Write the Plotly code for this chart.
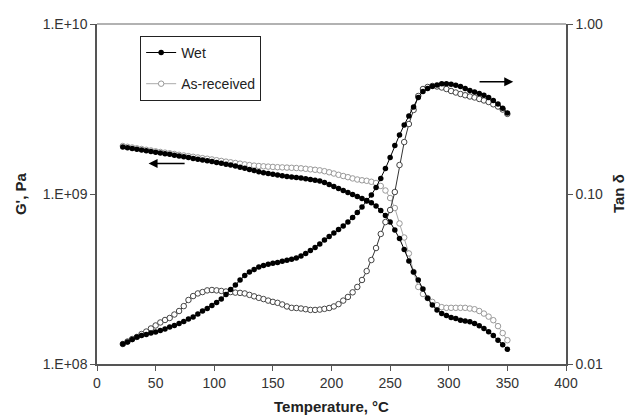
import plotly.graph_objects as go

temperature = [22, 26, 30, 34, 38, 42, 46, 50, 54, 58, 62, 66, 70, 74, 78, 82, 86, 90, 94, 98,
               102, 106, 110, 114, 118, 122, 126, 130, 134, 138, 142, 146, 150, 154, 158, 162,
               166, 170, 174, 178, 182, 186, 190, 194, 198, 202, 206, 210, 214, 218, 222, 226,
               230, 234, 238, 242, 246, 250, 254, 258, 262, 266, 270, 274, 278, 282, 286, 290,
               294, 298, 302, 306, 310, 314, 318, 322, 326, 330, 334, 338, 342, 346, 350]

g_wet = [1.890e9, 1.870e9, 1.852e9, 1.835e9, 1.815e9, 1.796e9, 1.779e9, 1.760e9, 1.743e9, 1.727e9,
         1.711e9, 1.693e9, 1.673e9, 1.655e9, 1.637e9, 1.619e9, 1.602e9, 1.585e9, 1.568e9, 1.551e9,
         1.534e9, 1.515e9, 1.497e9, 1.479e9, 1.461e9, 1.438e9, 1.416e9, 1.393e9, 1.373e9, 1.352e9,
         1.335e9, 1.320e9, 1.306e9, 1.294e9, 1.281e9, 1.269e9, 1.259e9, 1.249e9, 1.240e9, 1.231e9,
         1.217e9, 1.204e9, 1.193e9, 1.169e9, 1.138e9, 1.107e9, 1.078e9, 1.049e9, 1.020e9, 9.93e8,
         9.66e8, 9.40e8, 9.16e8, 8.87e8, 8.50e8, 8.00e8, 7.47e8, 6.85e8, 6.14e8, 5.47e8,
         4.72e8, 4.04e8, 3.48e8, 3.12e8, 2.76e8, 2.44e8, 2.22e8, 2.08e8, 1.98e8, 1.93e8,
         1.88e8, 1.85e8, 1.81e8, 1.79e8, 1.77e8, 1.73e8, 1.68e8, 1.62e8, 1.55e8, 1.47e8,
         1.38e8, 1.30e8, 1.22e8]

g_asrec = [1.916e9, 1.895e9, 1.877e9, 1.856e9, 1.840e9, 1.820e9, 1.803e9, 1.783e9, 1.767e9, 1.751e9,
           1.735e9, 1.719e9, 1.700e9, 1.685e9, 1.670e9, 1.655e9, 1.640e9, 1.625e9, 1.612e9, 1.597e9,
           1.580e9, 1.565e9, 1.550e9, 1.536e9, 1.522e9, 1.508e9, 1.493e9, 1.480e9, 1.469e9, 1.461e9,
           1.455e9, 1.449e9, 1.443e9, 1.438e9, 1.434e9, 1.430e9, 1.426e9, 1.422e9, 1.416e9, 1.407e9,
           1.397e9, 1.388e9, 1.378e9, 1.362e9, 1.342e9, 1.320e9, 1.297e9, 1.276e9, 1.256e9, 1.235e9,
           1.217e9, 1.204e9, 1.196e9, 1.180e9, 1.161e9, 1.115e9, 1.049e9, 9.47e8, 8.27e8, 6.71e8,
           5.55e8, 4.47e8, 3.48e8, 2.84e8, 2.58e8, 2.44e8, 2.32e8, 2.22e8, 2.16e8, 2.14e8,
           2.14e8, 2.14e8, 2.14e8, 2.14e8, 2.12e8, 2.10e8, 2.05e8, 1.98e8, 1.90e8, 1.81e8,
           1.67e8, 1.52e8, 1.38e8]

tan_wet = [0.01311, 0.01347, 0.01393, 0.01442, 0.01471, 0.01491, 0.01520, 0.01542, 0.01574, 0.01607,
           0.01652, 0.01685, 0.01731, 0.01779, 0.01840, 0.01890, 0.01968, 0.0205, 0.0212, 0.0221,
           0.0230, 0.0241, 0.0256, 0.0274, 0.0292, 0.0312, 0.0332, 0.0348, 0.0360, 0.0372,
           0.0380, 0.0386, 0.0391, 0.0396, 0.0402, 0.0407, 0.0413, 0.0420, 0.0432, 0.0447,
           0.0465, 0.0485, 0.0508, 0.0536, 0.0562, 0.0590, 0.0618, 0.0648, 0.0684, 0.0727,
           0.0778, 0.0839, 0.0910, 0.0987, 0.1093, 0.1234, 0.1412, 0.1640, 0.1928, 0.2224,
           0.2547, 0.2877, 0.3250, 0.3697, 0.4008, 0.4175, 0.4300, 0.4378, 0.4450, 0.4450,
           0.4420, 0.4360, 0.4290, 0.4175, 0.4064, 0.3981, 0.3900, 0.3808, 0.3697, 0.3550,
           0.3380, 0.3195, 0.3000]

tan_asrec = [0.01311, 0.01356, 0.01403, 0.01442, 0.01501, 0.01552, 0.01618, 0.01685, 0.01755, 0.01815,
             0.01865, 0.01955, 0.0205, 0.0219, 0.0238, 0.0251, 0.0260, 0.0265, 0.0271, 0.02725,
             0.0271, 0.0269, 0.0267, 0.0265, 0.0263, 0.0262, 0.0260, 0.0255, 0.0250, 0.0245,
             0.0241, 0.0236, 0.0232, 0.0229, 0.0224, 0.0218, 0.0214, 0.02135, 0.0212, 0.0210,
             0.0208, 0.0208, 0.0209, 0.0211, 0.02135, 0.0218, 0.0225, 0.0236, 0.0248, 0.0264,
             0.0284, 0.0312, 0.0352, 0.0409, 0.0481, 0.0582, 0.0684, 0.0805, 0.1027, 0.1481,
             0.2021, 0.2580, 0.3121, 0.3772, 0.4147, 0.4261, 0.4319, 0.4290, 0.4232, 0.4147,
             0.4036, 0.3954, 0.3874, 0.3810, 0.3746, 0.3697, 0.3622, 0.3550, 0.3477, 0.3370,
             0.3270, 0.3140, 0.2960]

FONT = "Liberation Sans, Arial, sans-serif"
AXIS_COLOR = "#555555"
MS = 5.5

fig = go.Figure()

fig.add_trace(go.Scatter(
    x=temperature, y=g_asrec, name="As-received", legendgroup="b", legendrank=2, yaxis="y",
    mode="lines+markers",
    line=dict(color="#aaaaaa", width=1),
    marker=dict(symbol="circle", size=MS, color="white", line=dict(color="#999999", width=1)),
))
fig.add_trace(go.Scatter(
    x=temperature, y=tan_asrec, name="As-received tan", legendgroup="b", showlegend=False,
    yaxis="y2", mode="lines+markers",
    line=dict(color="#333333", width=1),
    marker=dict(symbol="circle", size=MS, color="white", line=dict(color="#444444", width=1)),
))
fig.add_trace(go.Scatter(
    x=temperature, y=g_wet, name="Wet", legendgroup="a", legendrank=1, yaxis="y",
    mode="lines+markers",
    line=dict(color="black", width=1),
    marker=dict(symbol="circle", size=MS, color="black"),
))
fig.add_trace(go.Scatter(
    x=temperature, y=tan_wet, name="Wet tan", legendgroup="a", showlegend=False,
    yaxis="y2", mode="lines+markers",
    line=dict(color="black", width=1),
    marker=dict(symbol="circle", size=MS, color="black"),
))

fig.update_layout(
    width=626, height=417,
    margin=dict(l=97, r=60, t=24, b=53, autoexpand=False),
    paper_bgcolor="white", plot_bgcolor="white",
    font=dict(family=FONT, size=14, color="#333333"),
    showlegend=True,
    legend=dict(
        x=0.092, y=0.965, xanchor="left", yanchor="top",
        bgcolor="white", bordercolor="#222222", borderwidth=1,
        font=dict(family=FONT, size=14, color="#222222"),
        traceorder="grouped", tracegroupgap=10, itemwidth=30,
    ),
    xaxis=dict(
        range=[0, 400], tickvals=[0, 50, 100, 150, 200, 250, 300, 350, 400],
        showline=True, linecolor=AXIS_COLOR, linewidth=1.5,
        ticks="outside", ticklen=5, tickcolor=AXIS_COLOR, showgrid=False, zeroline=False,
        title=dict(text="<b>Temperature, °C</b>", font=dict(size=15, color="#222222"), standoff=12),
        tickfont=dict(size=14),
    ),
    yaxis=dict(
        type="log", range=[8, 10],
        tickvals=[1e8, 1e9, 1e10], ticktext=["1.E+08", "1.E+09", "1.E+10"],
        showline=True, linecolor=AXIS_COLOR, linewidth=1.5,
        ticks="outside", ticklen=5, tickcolor=AXIS_COLOR, showgrid=False, zeroline=False,
        tickfont=dict(size=14),
    ),
    yaxis2=dict(
        type="log", range=[-2, 0], overlaying="y", side="right",
        tickvals=[0.01, 0.1, 1], ticktext=["0.01", "0.10", "1.00"],
        showline=True, linecolor=AXIS_COLOR, linewidth=1.5,
        ticks="outside", ticklen=5, tickcolor=AXIS_COLOR, showgrid=False, zeroline=False,
        tickfont=dict(size=14),
    ),
    shapes=[dict(type="line", xref="paper", yref="paper", x0=0, x1=1, y0=1, y1=1,
                 line=dict(color="#999999", width=1.5))],
    annotations=[
        dict(x=44, y=9.18, xref="x", yref="y", ax=76, ay=9.18, axref="x", ayref="y",
             text="", showarrow=True, arrowhead=2, arrowsize=1.2, arrowwidth=1.5, arrowcolor="black"),
        dict(x=355, y=-0.34, xref="x", yref="y2", ax=325, ay=-0.34, axref="x", ayref="y2",
             text="", showarrow=True, arrowhead=2, arrowsize=1.2, arrowwidth=1.5, arrowcolor="black"),
        dict(text="<b>G', Pa</b>", x=-0.164, y=0.5, xref="paper", yref="paper",
             xanchor="center", yanchor="middle", textangle=-90, showarrow=False,
             font=dict(family=FONT, size=15, color="#222222")),
        dict(text="<b>Tan δ</b>", x=1.111, y=0.5, xref="paper", yref="paper",
             xanchor="center", yanchor="middle", textangle=-90, showarrow=False,
             font=dict(family=FONT, size=15, color="#222222")),
    ],
)

fig.write_html("out.html", config={"displayModeBar": False},
               post_script="document.body.style.margin='0';")
